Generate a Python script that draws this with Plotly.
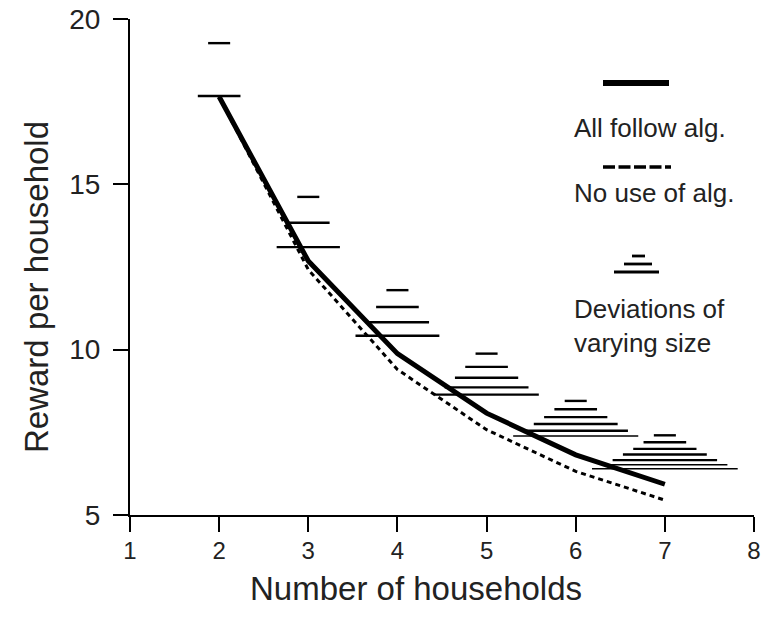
import plotly.graph_objects as go

# ---- data ----
households = [2, 3, 4, 5, 6, 7]
all_follow = [17.65, 12.68, 9.88, 8.08, 6.82, 5.93]
no_use = [17.65, 12.42, 9.40, 7.58, 6.32, 5.45]

# reward of a deviating household, for deviation size 1, 2, ... n
deviations = {
    2: [19.27, 17.67],
    3: [14.62, 13.84, 13.10],
    4: [11.80, 11.29, 10.83, 10.42],
    5: [9.88, 9.48, 9.15, 8.86, 8.64],
    6: [8.45, 8.20, 7.96, 7.75, 7.55, 7.39],
    7: [7.41, 7.20, 7.00, 6.83, 6.66, 6.52, 6.40],
}

x_ticks = [1, 2, 3, 4, 5, 6, 7, 8]
y_ticks = [5, 10, 15, 20]
x_title = "Number of households"
y_title = "Reward per household"

TXT = "#222222"
SANS = "Liberation Sans, Arial, sans-serif"
HALF_PER_SIZE = 0.1156

fig = go.Figure()

# deviation bars (thick for small sizes, thin for the largest)
for thin in (False, True):
    xs, ys = [], []
    for n, vals in deviations.items():
        for k, v in enumerate(vals, start=1):
            if (k >= 6) != thin:
                continue
            h = HALF_PER_SIZE * k + 0.008
            xs += [n - h, n + h, None]
            ys += [v, v, None]
    fig.add_trace(go.Scatter(x=xs, y=ys, mode="lines",
                             line=dict(color="black", width=1.4 if thin else 2.4),
                             hoverinfo="skip", showlegend=False))

fig.add_trace(go.Scatter(x=households, y=no_use, mode="lines",
                         line=dict(color="black", width=3, dash="5px,4px"),
                         showlegend=False))
fig.add_trace(go.Scatter(x=households, y=all_follow, mode="lines",
                         line=dict(color="black", width=5),
                         showlegend=False))

# ---- hand-drawn legend (paper coords; reference pixels -> plot fractions) ----
def px(xp):
    return (xp - 130) / 624.0

def py(yp):
    return (515 - yp) / 496.0

shapes = [
    dict(type="line", xref="paper", yref="paper", x0=px(603), x1=px(669), y0=py(83), y1=py(83),
         line=dict(color="black", width=6)),
    dict(type="line", xref="paper", yref="paper", x0=px(603), x1=px(671), y0=py(167), y1=py(167),
         line=dict(color="black", width=3.3, dash="12px,3.5px")),
    dict(type="line", xref="paper", yref="paper", x0=px(632), x1=px(645), y0=py(256), y1=py(256),
         line=dict(color="black", width=2.8)),
    dict(type="line", xref="paper", yref="paper", x0=px(624), x1=px(652), y0=py(264), y1=py(264),
         line=dict(color="black", width=2.8)),
    dict(type="line", xref="paper", yref="paper", x0=px(614), x1=px(659), y0=py(272), y1=py(272),
         line=dict(color="black", width=2.8)),
]

leg_font = dict(family=SANS, size=26, color=TXT)
annotations = [
    dict(text="All follow alg.", x=px(572), y=py(128), xref="paper", yref="paper",
         xanchor="left", yanchor="middle", showarrow=False, font=leg_font),
    dict(text="No use of alg.", x=px(572), y=py(193), xref="paper", yref="paper",
         xanchor="left", yanchor="middle", showarrow=False, font=leg_font),
    dict(text="Deviations of<br>varying size", x=px(572), y=py(326), xref="paper", yref="paper",
         xanchor="left", yanchor="middle", align="left", showarrow=False, font=leg_font),
    # axis titles (placed as in the reference, which is off-centre)
    dict(text=x_title, x=px(416), y=py(588), xref="paper", yref="paper",
         xanchor="center", yanchor="middle", showarrow=False,
         font=dict(family=SANS, size=33, color=TXT)),
    dict(text=y_title, x=px(36), y=py(287), xref="paper", yref="paper", textangle=-90,
         xanchor="center", yanchor="middle", showarrow=False,
         font=dict(family=SANS, size=33, color=TXT)),
]

# page body has an 8px default margin, so the figure is shifted by (8, 8)
fig.update_layout(
    width=763, height=611,
    margin=dict(l=122, r=17, t=11, b=104),
    paper_bgcolor="white", plot_bgcolor="white",
    showlegend=False,
    shapes=shapes, annotations=annotations,
    xaxis=dict(range=[1, 8], tickvals=x_ticks, showgrid=False, zeroline=False,
               automargin=False, ticklabeloverflow="allow", ticklabelstandoff=-2,
               showline=True, linecolor="black", linewidth=2,
               ticks="outside", ticklen=15, tickwidth=2, tickcolor="black",
               tickfont=dict(family=SANS, size=24, color=TXT)),
    yaxis=dict(range=[5, 20], tickvals=y_ticks, showgrid=False, zeroline=False,
               automargin=False, ticklabeloverflow="allow", ticklabelstandoff=7,
               showline=True, linecolor="black", linewidth=2,
               ticks="outside", ticklen=15, tickwidth=2, tickcolor="black",
               tickfont=dict(family=SANS, size=28, color=TXT)),
)

fig.write_html("out.html")
